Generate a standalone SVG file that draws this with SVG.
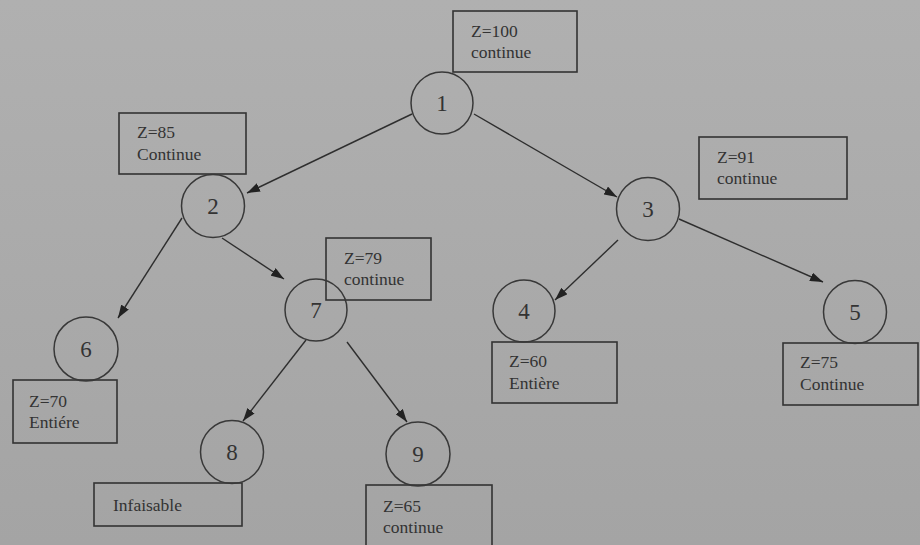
<svg xmlns="http://www.w3.org/2000/svg" width="920" height="545" viewBox="0 0 920 545">
<defs>
<linearGradient id="bg" x1="0" y1="0" x2="0" y2="1">
<stop offset="0" stop-color="#b0b0b0"/>
<stop offset="1" stop-color="#a4a4a4"/>
</linearGradient>
<marker id="arr" markerUnits="userSpaceOnUse" markerWidth="13" markerHeight="9" refX="13" refY="4.5" orient="auto">
<path d="M0,0 L13,4.5 L0,9 z" fill="#222"/>
</marker>
<style>
.box{fill:none;stroke:#333;stroke-width:1.6}
.node{fill:none;stroke:#383838;stroke-width:1.5}
.t{font-family:"Liberation Serif","Times New Roman",serif;font-size:17.5px;fill:#333}
.n{font-family:"Liberation Serif","Times New Roman",serif;font-size:23px;fill:#333;text-anchor:middle}
.e{stroke:#2e2e2e;stroke-width:1.4;fill:none;marker-end:url(#arr)}
</style>
</defs>
<rect x="0" y="0" width="920" height="545" fill="url(#bg)"/>
<g id="connectors">
<line class="e" x1="412" y1="114" x2="247" y2="193"/>
<line class="e" x1="474" y1="114" x2="617" y2="197"/>
<line class="e" x1="182" y1="218" x2="118" y2="318"/>
<line class="e" x1="222" y1="238" x2="284" y2="279"/>
<line class="e" x1="618" y1="240" x2="555" y2="300"/>
<line class="e" x1="679" y1="219" x2="823" y2="282"/>
<line class="e" x1="306" y1="340" x2="243" y2="421"/>
<line class="e" x1="347" y1="342" x2="407" y2="422"/>
</g>
<g id="node1">
<rect class="box" x="453" y="11" width="124" height="61"/>
<text class="t" x="471" y="37">Z=100</text>
<text class="t" x="471" y="58">continue</text>
<circle class="node" cx="442" cy="103" r="31"/>
<text class="n" x="442" y="111">1</text>
</g>
<g id="node2">
<rect class="box" x="119" y="113" width="127" height="61"/>
<text class="t" x="137" y="138">Z=85</text>
<text class="t" x="137" y="160">Continue</text>
<circle class="node" cx="213" cy="206" r="31.5"/>
<text class="n" x="213" y="214">2</text>
</g>
<g id="node3">
<rect class="box" x="699" y="137" width="148" height="62"/>
<text class="t" x="717" y="163">Z=91</text>
<text class="t" x="717" y="184">continue</text>
<circle class="node" cx="648" cy="209" r="31.5"/>
<text class="n" x="648" y="217">3</text>
</g>
<g id="node4">
<rect class="box" x="492" y="342" width="125" height="61"/>
<text class="t" x="509" y="367">Z=60</text>
<text class="t" x="509" y="389">Entière</text>
<circle class="node" cx="524" cy="311" r="31"/>
<text class="n" x="524" y="319">4</text>
</g>
<g id="node5">
<rect class="box" x="783" y="343" width="135" height="62"/>
<text class="t" x="800" y="368">Z=75</text>
<text class="t" x="800" y="390">Continue</text>
<circle class="node" cx="855" cy="312" r="31.5"/>
<text class="n" x="855" y="320">5</text>
</g>
<g id="node6">
<rect class="box" x="13" y="380" width="104" height="63"/>
<text class="t" x="29" y="407">Z=70</text>
<text class="t" x="29" y="428">Entiére</text>
<circle class="node" cx="86" cy="349" r="32"/>
<text class="n" x="86" y="357">6</text>
</g>
<g id="node7">
<rect class="box" x="326" y="238" width="105" height="62"/>
<text class="t" x="344" y="264">Z=79</text>
<text class="t" x="344" y="285">continue</text>
<circle class="node" cx="316" cy="310" r="31"/>
<text class="n" x="316" y="318">7</text>
</g>
<g id="node8">
<rect class="box" x="94" y="483" width="148" height="43"/>
<text class="t" x="113" y="511">Infaisable</text>
<circle class="node" cx="232" cy="452" r="31.5"/>
<text class="n" x="232" y="460">8</text>
</g>
<g id="node9">
<rect class="box" x="366" y="485" width="126" height="70"/>
<text class="t" x="383" y="512">Z=65</text>
<text class="t" x="383" y="533">continue</text>
<circle class="node" cx="418" cy="454" r="32"/>
<text class="n" x="418" y="462">9</text>
</g>
</svg>
